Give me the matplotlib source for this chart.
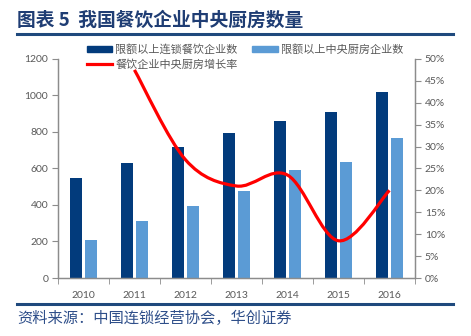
import numpy as np
import matplotlib.pyplot as plt
from matplotlib.path import Path
from matplotlib.patches import PathPatch
from matplotlib.lines import Line2D
from matplotlib.patches import Patch

plt.rcParams['font.family'] = ['Lato', 'Noto Sans CJK SC', 'DejaVu Sans']

years = ['2010', '2011', '2012', '2013', '2014', '2015', '2016']
chain_firms = [550, 630, 720, 795, 860, 910, 1020]
kitchen_firms = [210, 310, 395, 475, 590, 635, 765]
growth = [47.5, 27.0, 21.0, 23.5, 8.5, 20.0]   # 2011-2016, %

DARK = '#023B7C'
LIGHT = '#5B9BD5'
GRAY = '#595959'
AXC = '#8C8C8C'


def smooth_path(xs, ys):
    # excel style smoothed line: catmull-rom segments as cubic bezier
    pts = np.column_stack([xs, ys]).astype(float)
    n = len(pts)
    verts = [pts[0]]
    codes = [Path.MOVETO]
    for i in range(n - 1):
        p0 = pts[i - 1] if i > 0 else pts[i]
        p1 = pts[i]
        p2 = pts[i + 1]
        p3 = pts[i + 2] if i + 2 < n else pts[i + 1]
        c1 = p1 + (p2 - p0) / 6.0
        c2 = p2 - (p3 - p1) / 6.0
        verts += [c1, c2, p2]
        codes += [Path.CURVE4] * 3
    return Path(verts, codes)


fig = plt.figure(figsize=(4.71, 3.36), dpi=100)
ax = fig.add_axes([0.123, 0.1726, 0.758, 0.652])
ax2 = ax.twinx()

x = np.arange(len(years))
w = 0.23
ax.bar(x - 0.145, chain_firms, w, color=DARK, zorder=2)
ax.bar(x + 0.145, kitchen_firms, w, color=LIGHT, zorder=2)

ax.set_xlim(-0.5, len(years) - 0.5)
ax.set_ylim(0, 1200)
ax.set_yticks(range(0, 1201, 200))
ax.set_xticks(x)
ax.set_xticklabels(years)
ax.set_xticks(np.arange(-0.5, len(years), 1), minor=True)
ax.tick_params(axis='x', which='major', length=0, pad=9, labelsize=7.5, labelcolor=GRAY)
ax.tick_params(axis='x', which='minor', length=4, color=AXC, direction='out')
ax.tick_params(axis='y', length=4, color=AXC, labelsize=7.5, labelcolor=GRAY, pad=3)

ax2.set_ylim(0, 50)
ax2.set_yticks(range(0, 51, 5))
ax2.set_yticklabels(['{}%'.format(v) for v in range(0, 51, 5)])
ax2.tick_params(axis='y', length=4, color=AXC, labelsize=7.5, labelcolor=GRAY, pad=3)

gx = x[1:]
ax2.add_patch(PathPatch(smooth_path(gx, growth), facecolor='none',
                        edgecolor='#FF0000', lw=2.3, zorder=3,
                        capstyle='butt'))

for a in (ax, ax2):
    a.spines['top'].set_visible(False)
    for s in ('left', 'right', 'bottom'):
        a.spines[s].set_color(AXC)
        a.spines[s].set_linewidth(0.9)

# column-wise fill: dark + red in first column, light in second
handles = [Patch(color=DARK), Line2D([0], [0], color='#FF0000', lw=2.3), Patch(color=LIGHT)]
labels = ['限额以上连锁餐饮企业数', '餐饮企业中央厨房增长率', '限额以上中央厨房企业数']
leg = fig.legend(handles, labels, ncol=2, loc='upper left',
                 bbox_to_anchor=(0.172, 0.885), frameon=False,
                 handlelength=2.3, handleheight=0.55, handletextpad=0.3,
                 columnspacing=1.3, labelspacing=0.35, borderpad=0,
                 prop={'family': ['Noto Sans CJK SC'], 'size': 8})
for t in leg.get_texts():
    t.set_color(GRAY)

fig.text(0.036, 0.94, '图表 5  我国餐饮企业中央厨房数量', fontsize=13.5,
         fontweight='bold', color='#1F3D74', va='center',
         family=['Noto Sans CJK SC'])
fig.add_artist(Line2D([0.036, 0.962], [0.899, 0.899], color='#1F497D', lw=2.2))
fig.add_artist(Line2D([0.036, 0.962], [0.095, 0.095], color='#1F497D', lw=2.2))
fig.text(0.036, 0.052, '资料来源：中国连锁经营协会，华创证券', fontsize=11,
         color='#2F4F8A', va='center', family=['Noto Sans CJK SC'])

fig.savefig('out.png', dpi=100)
